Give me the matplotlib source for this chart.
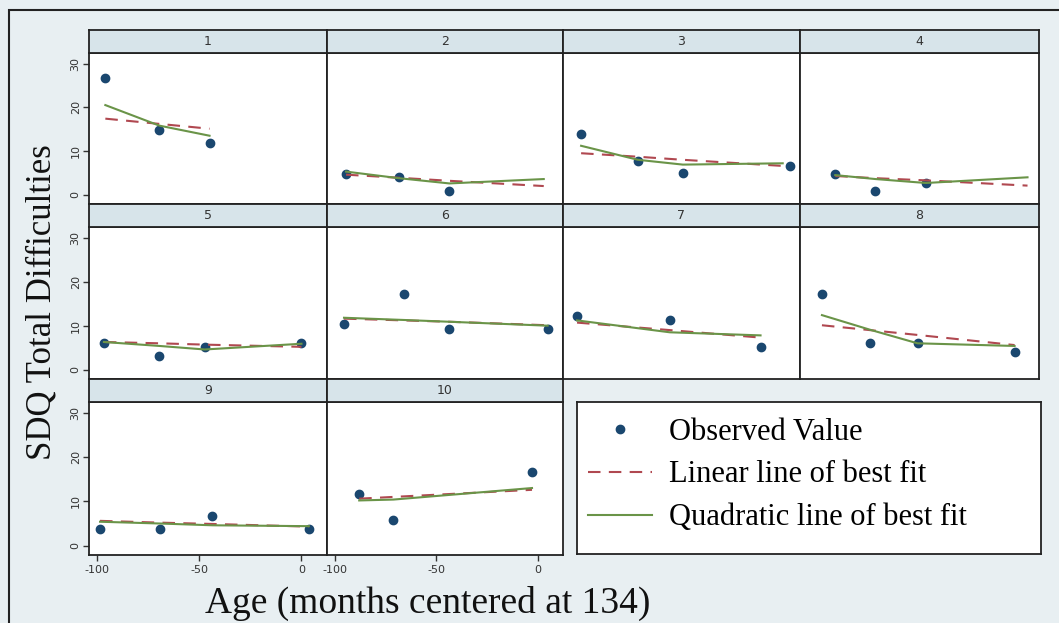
import matplotlib
matplotlib.use('Agg')
import matplotlib.pyplot as plt
from matplotlib.lines import Line2D
from matplotlib.patches import Rectangle

plt.rcParams['axes.unicode_minus'] = False

# Номера панелей
panels = ['1', '2', '3', '4', '5', '6', '7', '8', '9', '10']

# Наблюдаемые значения (возраст и SDQ)
obs_x = [
    [-96, -69.5, -45],
    [-94.6, -68.6, -43.6],
    [-95.1, -67.2, -45.1, 7.4],
    [-86.8, -67.2, -42.6],
    [-96.7, -69.5, -47.3, 0],
    [-95.6, -66.2, -44, 4.9],
    [-97.1, -51.5, -6.9],
    [-93.3, -70, -46.7, 0.6],
    [-98.6, -69.3, -43.6, 3.6],
    [-88.1, -71.2, -2.8],
]
obs_y = [
    [26.8, 14.9, 11.9],
    [4.7, 4.1, 0.9],
    [13.9, 7.8, 4.9, 6.6],
    [4.8, 0.9, 2.7],
    [6.1, 3.1, 5.1, 6.1],
    [10.3, 17.2, 9.2, 9.2],
    [12.2, 11.2, 5.1],
    [17.2, 6.1, 6.1, 4.1],
    [3.8, 3.8, 6.7, 3.8],
    [11.7, 5.7, 16.7],
]

# Точки прогноза модели
fit_x = [
    [-96, -69.5, -45],
    [-94.6, -68.6, -43.6, 3],
    [-95.1, -67.2, -45.1, 4],
    [-86.8, -67.2, -42.6, 6.9],
    [-96.7, -69.5, -47.3, 0],
    [-95.6, -66.2, -44, 4.9],
    [-97.1, -51.5, -6.9],
    [-93.3, -70, -46.7, 0.6],
    [-98.6, -69.3, -43.6, 3.6],
    [-88.1, -71.2, -2.8],
]
lin_fit = [
    [17.4, 16.2, 15.1],
    [4.6, 3.9, 3.2, 2.0],
    [9.5, 8.7, 8.0, 6.6],
    [4.3, 3.8, 3.3, 2.1],
    [6.3, 6.0, 5.7, 5.2],
    [11.6, 11.2, 10.9, 10.1],
    [10.7, 9.0, 7.3],
    [10.1, 9.0, 7.9, 5.6],
    [5.6, 5.2, 4.9, 4.3],
    [10.6, 11.0, 12.6],
]
quad_fit = [
    [20.5, 15.8, 13.5],
    [5.3, 3.8, 2.6, 3.6],
    [11.2, 8.0, 6.9, 7.2],
    [4.5, 3.6, 2.7, 4.0],
    [6.3, 5.4, 4.6, 5.9],
    [11.8, 11.3, 10.9, 10.0],
    [11.2, 8.5, 7.8],
    [12.4, 9.1, 6.0, 5.4],
    [5.4, 5.0, 4.6, 4.4],
    [10.2, 10.4, 13.0],
]

x_ticks = [-100, -50, 0]
y_ticks = [0, 10, 20, 30]

# Цвета
bg = '#e8eff2'
strip_bg = '#d7e4ea'
navy = '#1a476f'
red = '#b04850'
green = '#6a9448'

W, H = 1059, 623
fig = plt.figure(figsize=(W / 100, H / 100), dpi=100, facecolor=bg)


def rect(x0, y0, x1, y1):
    return [x0 / W, 1 - y1 / H, (x1 - x0) / W, (y1 - y0) / H]


col_left = [89, 327, 563, 800]
col_right = [327, 563, 800, 1039]
strip_top = [30, 204, 379]
plot_top = [53, 227, 402]
plot_bottom = [204, 379, 555]

for i, name in enumerate(panels):
    r, c = divmod(i, 4)
    ax = fig.add_axes(rect(col_left[c], plot_top[r], col_right[c], plot_bottom[r]))
    ax.set_facecolor('white')
    ax.plot(obs_x[i], obs_y[i], 'o', color=navy, ms=6, zorder=2)
    ax.plot(fit_x[i], lin_fit[i], color=red, lw=1.5, ls=(0, (6, 4)), zorder=3)
    ax.plot(fit_x[i], quad_fit[i], color=green, lw=1.5, zorder=3)
    ax.set_xlim(-104, 12.5)
    ax.set_ylim(-2.1, 32.4)
    for s in ax.spines.values():
        s.set_linewidth(1.3)
        s.set_color('#222222')
    ax.tick_params(length=4, width=1, color='#333333', labelsize=8, labelcolor='#333333')
    if c == 0:
        ax.set_yticks(y_ticks)
        ax.tick_params(axis='y', labelrotation=90, pad=2)
        for lbl in ax.get_yticklabels():
            lbl.set_va('center')
    else:
        ax.set_yticks([])
    if r == 2:
        ax.set_xticks(x_ticks)
        ax.tick_params(axis='x', pad=3)
    else:
        ax.set_xticks([])

    # Заголовок панели
    sax = fig.add_axes(rect(col_left[c], strip_top[r], col_right[c], plot_top[r]))
    sax.set_facecolor(strip_bg)
    sax.set_xticks([])
    sax.set_yticks([])
    for s in sax.spines.values():
        s.set_linewidth(1.3)
        s.set_color('#222222')
    sax.text(0.5, 0.5, name, ha='center', va='center', fontsize=9, color='#333333',
             transform=sax.transAxes)

# Легенда
lax = fig.add_axes(rect(577, 402, 1041, 554))
lax.set_facecolor('white')
lax.set_xticks([])
lax.set_yticks([])
for s in lax.spines.values():
    s.set_linewidth(1.3)
    s.set_color('#222222')
handles = [
    Line2D([], [], ls='none', marker='o', color=navy, ms=6),
    Line2D([], [], color=red, lw=1.5, ls=(0, (6, 4))),
    Line2D([], [], color=green, lw=1.5),
]
labels = ['Observed Value', 'Linear line of best fit', 'Quadratic line of best fit']
lax.legend(handles, labels, loc='center left', bbox_to_anchor=(0.024, 0.52),
           frameon=False, borderpad=0, borderaxespad=0, handlelength=2.1,
           handletextpad=0.55, labelspacing=0.45,
           prop={'family': 'Liberation Serif', 'size': 22})

# Подписи осей
fig.text(42 / W, 1 - 302 / H, 'SDQ Total Difficulties', rotation=90, ha='center',
         va='center', fontsize=25, family='Liberation Serif', color='#111111')
fig.text(428 / W, 1 - 603 / H, 'Age (months centered at 134)', ha='center',
         va='center', fontsize=27, family='Liberation Serif', color='#111111')

# Внешняя рамка
fig.add_artist(Rectangle((9 / W, -0.1), 1.2, 1.1 - 10 / H, fill=False,
                         ec='#222222', lw=1.5, transform=fig.transFigure))

fig.savefig('out.png', dpi=100, facecolor=bg)
